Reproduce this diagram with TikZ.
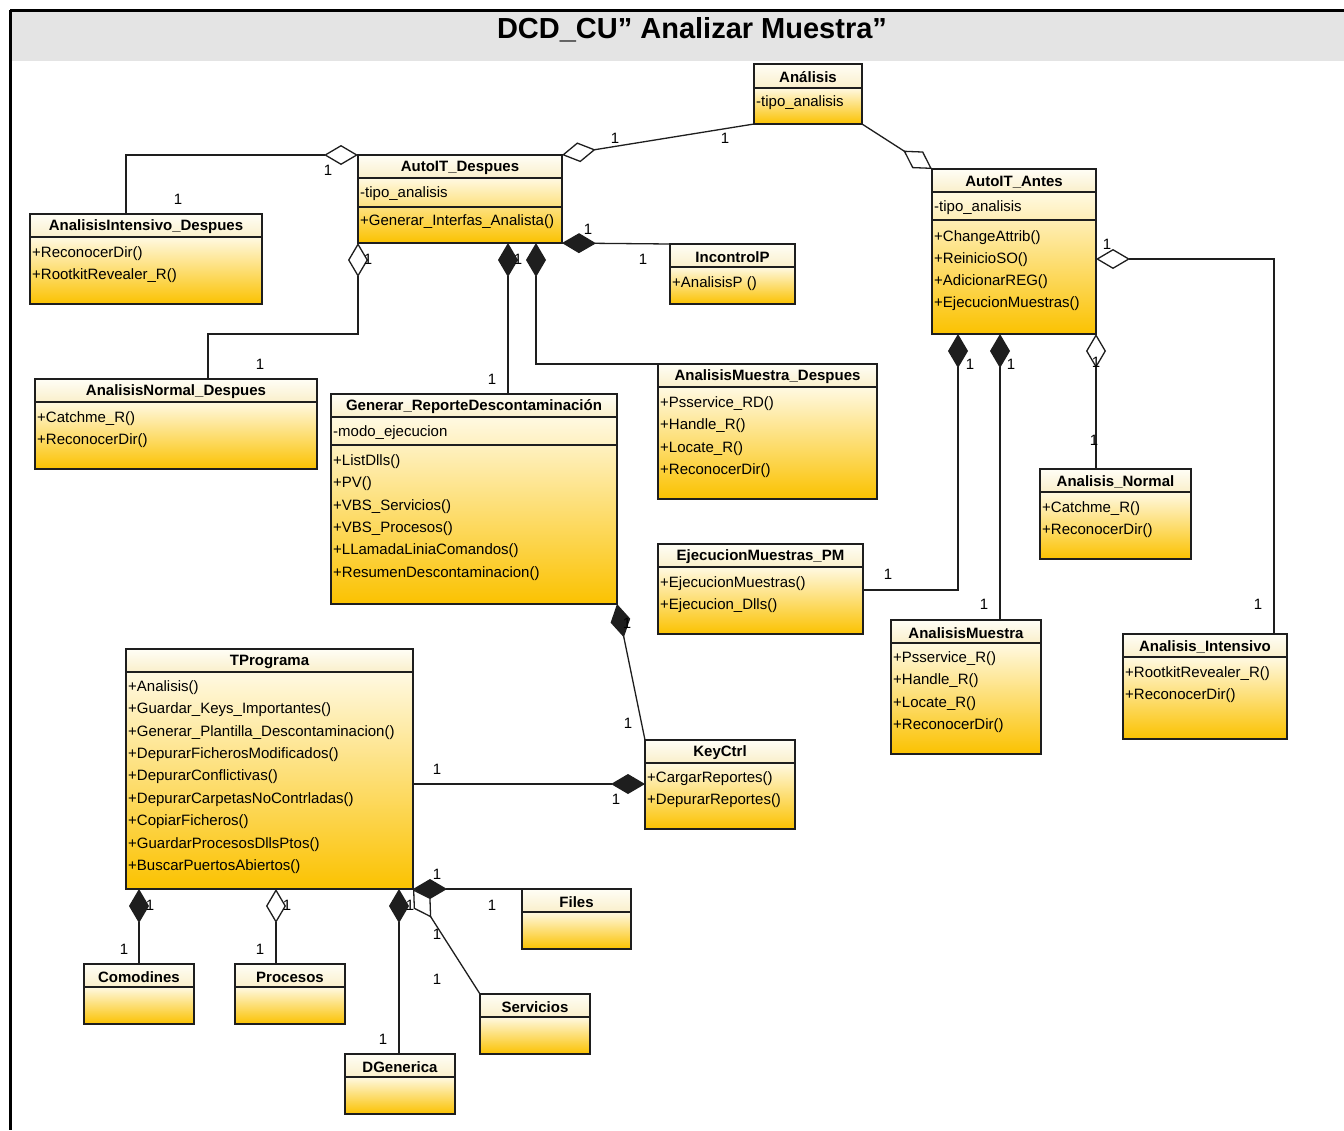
\documentclass[tikz,border=0pt]{standalone}
\usepackage{fontspec}
\setmainfont{Liberation Sans}
\usetikzlibrary{arrows.meta}

\definecolor{hdtop}{HTML}{FFFEF6}
\definecolor{hdbot}{HTML}{FAEFCB}
\definecolor{bdtop}{HTML}{FFF9E2}
\definecolor{bdmid}{HTML}{FDE48E}
\definecolor{bdbot}{HTML}{FBC200}
\definecolor{band}{HTML}{E4E4E4}
\definecolor{ink}{HTML}{1E1E1E}

\tikzset{
  boxframe/.style={draw=ink, line width=1.5pt, rectangle, inner sep=0pt, outer sep=0pt},
  sepline/.style={draw=ink, line width=1.3pt},
  classtitle/.style={font=\fontsize{15}{18}\selectfont\bfseries, inner sep=0pt},
  member/.style={font=\fontsize{15}{18}\selectfont, inner sep=0pt, anchor=west},
  mult/.style={font=\fontsize{15}{18}\selectfont, inner sep=0pt},
  link/.style={draw=ink, line width=1.3pt},
  comp/.style={link, -{Diamond[length=34pt, width=20pt, fill=ink]}},
  agg/.style={link, -{Diamond[length=34pt, width=20pt, fill=white]}},
}

% class box: name, left, top, right, bottom, bottom of the name compartment, title
\newcommand{\umlclass}[7]{%
  \shade[top color=hdtop, bottom color=hdbot] (#2,#3) rectangle (#4,#6);
  \shade[top color=bdtop, middle color=bdmid, bottom color=bdbot] (#2,#6) rectangle (#4,#5);
  \draw[sepline] (#2,#6) -- (#4,#6);
  \node[boxframe, minimum width={(#4-#2)*1pt}, minimum height={(#5-#3)*1pt}] (#1) at ({(#2+#4)/2},{(#3+#5)/2}) {};
  \node[classtitle] (#1-title) at ({(#2+#4)/2},{(#3+#6)/2+1.5}) {#7};
}
% member lines: class name, left, centre of the first line, list of entries
\newcommand{\members}[4]{%
  \foreach \txt [count=\i] in {#4} {\node[member] (#1-m\i) at (#2+2,{#3+1.5+(\i-1)*22.4}) {\txt};}%
}
% extra compartment separator: left, right, y
\newcommand{\compline}[3]{\draw[sepline] (#1,#3) -- (#2,#3);}

\begin{document}
\begin{tikzpicture}[x=1pt, y=-1pt]
\useasboundingbox (0,0) rectangle (1344,1130);
\fill[white] (0,0) rectangle (1344,1130);

% frame and title band
\fill[band] (11,11) rectangle (1344,61);
\draw[black, line width=3pt] (10,10) -- (1344,10);
\draw[black, line width=3pt] (10,10) -- (10,1130);
\node[font=\fontsize{29}{34}\selectfont\bfseries, inner sep=0pt] (title) at (692,30) {DCD\_CU” Analizar Muestra”};

% ---------- classes ----------
\umlclass{analisis}{754}{64}{862}{124}{88}{Análisis}
\members{analisis}{754}{101}{-tipo\_analisis}

\umlclass{despues}{358}{155}{562}{243}{178}{AutoIT\_Despues}
\compline{358}{562}{207}
\members{despues}{358}{192}{-tipo\_analisis}
\node[member] (despues-op) at (360,221.5) {+Generar\_Interfas\_Analista()};

\umlclass{intdesp}{30}{214}{262}{304}{237}{AnalisisIntensivo\_Despues}
\members{intdesp}{30}{252}{+ReconocerDir(),+RootkitRevealer\_R()}

\umlclass{incontrol}{670}{244}{795}{304}{267}{IncontrolP}
\members{incontrol}{670}{282}{+AnalisisP ()}

\umlclass{antes}{932}{169}{1096}{334}{192}{AutoIT\_Antes}
\compline{932}{1096}{220}
\members{antes}{932}{206}{-tipo\_analisis}
\foreach \txt [count=\i] in {+ChangeAttrib(),+ReinicioSO(),+AdicionarREG(),+EjecucionMuestras()}
  {\node[member] (antes-op\i) at (934,{237.5+(\i-1)*22}) {\txt};}

\umlclass{normdesp}{35}{379}{317}{469}{402}{AnalisisNormal\_Despues}
\members{normdesp}{35}{417}{+Catchme\_R(),+ReconocerDir()}

\umlclass{genrep}{331}{394}{617}{604}{417}{Generar\_ReporteDescontaminación}
\compline{331}{617}{445}
\members{genrep}{331}{431}{-modo\_ejecucion}
\foreach \txt [count=\i] in {+ListDlls(),+PV(),+VBS\_Servicios(),+VBS\_Procesos(),+LLamadaLiniaComandos(),+ResumenDescontaminacion()}
  {\node[member] (genrep-op\i) at (333,{461.5+(\i-1)*22.4}) {\txt};}

\umlclass{amdesp}{658}{364}{877}{499}{387}{AnalisisMuestra\_Despues}
\members{amdesp}{658}{402}{+Psservice\_RD(),+Handle\_R(),+Locate\_R(),+ReconocerDir()}

\umlclass{ejec}{658}{544}{863}{634}{567}{EjecucionMuestras\_PM}
\members{ejec}{658}{582}{+EjecucionMuestras(),+Ejecucion\_Dlls()}

\umlclass{anormal}{1040}{469}{1191}{559}{492}{Analisis\_Normal}
\members{anormal}{1040}{507}{+Catchme\_R(),+ReconocerDir()}

\umlclass{amuestra}{891}{620}{1041}{754}{643}{AnalisisMuestra}
\members{amuestra}{891}{657}{+Psservice\_R(),+Handle\_R(),+Locate\_R(),+ReconocerDir()}

\umlclass{intens}{1123}{634}{1287}{739}{657}{Analisis\_Intensivo}
\members{intens}{1123}{672}{+RootkitRevealer\_R(),+ReconocerDir()}

\umlclass{tprog}{126}{649}{413}{889}{672}{TPrograma}
\members{tprog}{126}{686}{+Analisis(),+Guardar\_Keys\_Importantes(),+Generar\_Plantilla\_Descontaminacion(),+DepurarFicherosModificados(),+DepurarConflictivas(),+DepurarCarpetasNoContrladas(),+CopiarFicheros(),+GuardarProcesosDllsPtos(),+BuscarPuertosAbiertos()}

\umlclass{keyctrl}{645}{740}{795}{829}{763}{KeyCtrl}
\members{keyctrl}{645}{777}{+CargarReportes(),+DepurarReportes()}

\umlclass{files}{522}{889}{631}{949}{912}{Files}
\umlclass{comod}{84}{964}{194}{1024}{987}{Comodines}
\umlclass{procesos}{235}{964}{345}{1024}{987}{Procesos}
\umlclass{serv}{480}{994}{590}{1054}{1017}{Servicios}
\umlclass{dgen}{345}{1054}{455}{1114}{1077}{DGenerica}

% ---------- associations ----------
\draw[agg] (analisis.south west) -- (despues.north east);
\draw[agg] ([xshift=96pt]intdesp.north west) |- (despues.north west);
\draw[agg] ([xshift=173pt]normdesp.north west) -- ++(0,-45) -| (despues.south west);
\draw[comp] ([xshift=177pt]genrep.north west) -- ([xshift=150pt]despues.south west);
\draw[comp] (amdesp.north west) -| ([xshift=178pt]despues.south west);
\draw[comp] (incontrol.north west) -- (despues.south east);
\draw[agg] (analisis.south east) -- (antes.north west);
\draw[agg] ([xshift=151pt]intens.north west) |- ([yshift=-90pt]antes.north east);
\draw[comp] ([yshift=-46pt]ejec.north east) -| ([xshift=26pt]antes.south west);
\draw[comp] ([xshift=109pt]amuestra.north west) -- ([xshift=68pt]antes.south west);
\draw[agg] ([xshift=56pt]anormal.north west) -- (antes.south east);
\draw[comp] (keyctrl.north west) -- (genrep.south east);
\draw[comp] ([yshift=-135pt]tprog.north east) -- ([yshift=-44pt]keyctrl.north west);
\draw[comp] ([xshift=55pt]comod.north west) -- ([xshift=13pt]tprog.south west);
\draw[agg] ([xshift=41pt]procesos.north west) -- ([xshift=150pt]tprog.south west);
\draw[comp] ([xshift=54pt]dgen.north west) -- ([xshift=273pt]tprog.south west);
\draw[comp] (files.north west) -- (tprog.south east);
\draw[agg] (serv.north west) -- (tprog.south east);

% ---------- multiplicities ----------
\foreach \px/\py [count=\k] in {615/138, 725/138, 328/170, 178/199, 368/259, 260/364,
    518/259, 492/379, 588/229, 643/259, 1107/244, 1258/604, 970/364, 888/574,
    1011/364, 984/604, 1096/362, 1094/440, 627/623, 628/723, 437/769, 616/799,
    150/905, 124/949, 287/905, 260/949, 410/905, 383/1039, 437/874, 492/905,
    437/934, 437/979}
  {\node[mult] (mult\k) at (\px,\py) {1};}
\end{tikzpicture}
\end{document}
